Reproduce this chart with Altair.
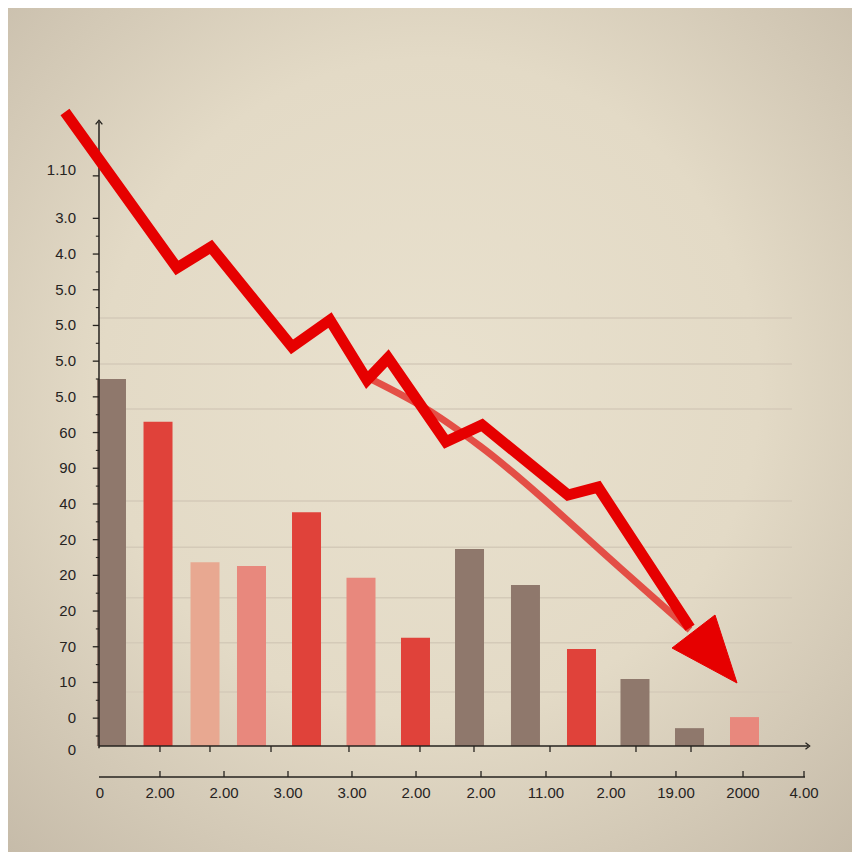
import altair as alt
import pandas as pd

# ---------------- data ----------------
# bars: position along the x axis (slot units), height, colour tone
bar_pos = [0, 0.882, 1.773, 2.654, 3.697, 4.730, 5.763, 6.787, 7.848, 8.910, 9.924, 10.957, 12.0]
bar_val = [102.8, 90.8, 51.5, 50.4, 65.5, 47.1, 30.3, 55.2, 45.1, 27.2, 18.8, 5.0, 8.1]
bar_tone = ["brown", "red", "peach", "salmon", "red", "salmon", "red",
            "brown", "brown", "red", "brown", "brown", "salmon"]

# falling zig-zag trend line
trend_x = [-0.882, 1.242, 1.886, 3.422, 4.142, 4.844, 5.242, 6.341, 7.024, 8.654, 9.223, 10.967]
trend_y = [177.6, 133.9, 139.8, 111.8, 119.3, 102.5, 108.7, 85.2, 89.9, 70.3, 72.5, 33.1]

# straight-ish "shadow" trend
shadow_x = [4.957, 6.038, 6.986, 9.640, 10.967]
shadow_y = [102.5, 93.8, 84.0, 49.9, 32.5]

# arrow head
head_x = [10.626, 11.441, 11.858, 10.626]
head_y = [27.45, 36.69, 17.65, 27.45]

# y axis labels (bottom to top) and their positions
y_labels = ["0", "0", "10", "70", "20", "20", "20", "40", "90", "60",
            "5.0", "5.0", "5.0", "5.0", "4.0", "3.0", "1.10"]
y_label_pos = [-1.1, 7.8, 17.8, 27.8, 37.8, 47.8, 57.8, 67.8, 77.8, 87.8,
               97.8, 107.8, 117.8, 127.8, 137.8, 147.8, 161.3]
y_major = [7.8, 17.8, 27.8, 37.8, 47.8, 57.8, 67.8, 77.8, 87.8,
           97.8, 107.8, 117.8, 127.8, 137.8, 147.8, 159.7]
y_minor = [2.8, 12.8, 22.8, 32.8, 42.8, 52.8, 62.8, 72.8, 82.8,
           92.8, 102.8, 112.8, 122.8, 132.8, 142.8]

# x axis labels and ticks
x_labels = ["0", "2.00", "2.00", "3.00", "3.00", "2.00", "2.00",
            "11.00", "2.00", "19.00", "2000", "4.00"]
x_label_pos = [-0.218, 0.919, 2.133, 3.346, 4.559, 5.773, 7.005,
               8.237, 9.469, 10.701, 11.972, 13.128]
x_ticks_upper = [0.919, 1.867, 3.024, 4.502, 5.848, 6.872, 8.313, 9.943, 10.986]
x_ticks_lower = x_label_pos[1:]

# faint horizontal grid lines
grid_y = [119.9, 107.0, 94.4, 68.6, 55.7, 41.5, 28.9, 15.1]

# axis geometry (data units)
AX_X = -0.237          # y axis position
AX_TOP = 174.8         # top of y axis
AX_RIGHT = 13.204      # end of x axis
LOW_Y = -8.68          # second (label) axis line
LOW_RIGHT = 13.147
GRID_RIGHT = 12.90

# ---------------- scales ----------------
xs = alt.Scale(domain=[-1.962, 14.038], nice=False, zero=False, padding=0)
ys = alt.Scale(domain=[-29.69, 206.72], nice=False, zero=False, padding=0)
X = lambda f="x": alt.X(f"{f}:Q", scale=xs, axis=None)
Y = lambda f="y": alt.Y(f"{f}:Q", scale=ys, axis=None)

INK = "#26231f"
FONT = "Liberation Sans"

# background gradient
bg = alt.Chart(pd.DataFrame({"a": [0]})).mark_rect(
    color=alt.RadialGradient(
        gradient="radial",
        stops=[alt.GradientStop(offset=0, color="#e9e1ce"),
               alt.GradientStop(offset=0.5, color="#e3dac6"),
               alt.GradientStop(offset=1, color="#c3b8a6")],
        x1=0.5, y1=0.45, r1=0, x2=0.5, y2=0.45, r2=0.78)
).encode(x=alt.value(0), x2=alt.value(844), y=alt.value(0), y2=alt.value(844))

# grid
grid_df = pd.DataFrame({"y": grid_y, "x": AX_X, "x2": GRID_RIGHT})
grid = alt.Chart(grid_df).mark_rule(color="#d4cab8", strokeWidth=1.5).encode(
    x=X(), x2="x2", y=Y())

# bars
bar_df = pd.DataFrame({"x": bar_pos, "y": bar_val, "tone": bar_tone, "base": 0})
bars = alt.Chart(bar_df).mark_bar(size=29).encode(
    x=X(), y=Y(), y2="base",
    color=alt.Color("tone:N", legend=None,
                    scale=alt.Scale(domain=["brown", "red", "peach", "salmon"],
                                    range=["#8f786c", "#e0423a", "#e8a891", "#e8887d"])))

# axes lines
axes_df = pd.DataFrame({
    "x": [AX_X, AX_X, AX_X],
    "x2": [AX_X, AX_RIGHT, LOW_RIGHT],
    "y": [-0.6, 0, LOW_Y],
    "y2": [AX_TOP, 0, LOW_Y],
})
axes = alt.Chart(axes_df).mark_rule(color=INK, strokeWidth=1.5).encode(
    x=X(), x2="x2", y=Y(), y2="y2")

# y ticks
ymaj_df = pd.DataFrame({"y": y_major, "x": AX_X - 0.118, "x2": AX_X})
ymin_df = pd.DataFrame({"y": y_minor, "x": AX_X - 0.06, "x2": AX_X})
ymaj = alt.Chart(ymaj_df).mark_rule(color=INK, strokeWidth=1.3).encode(x=X(), x2="x2", y=Y())
ymin = alt.Chart(ymin_df).mark_rule(color=INK, strokeWidth=1.1).encode(x=X(), x2="x2", y=Y())

# x ticks
xu_df = pd.DataFrame({"x": x_ticks_upper, "y": 0, "y2": -1.7})
xl_df = pd.DataFrame({"x": x_ticks_lower, "y": LOW_Y, "y2": LOW_Y + 1.7})
xu = alt.Chart(xu_df).mark_rule(color=INK, strokeWidth=1.3).encode(x=X(), y=Y(), y2="y2")
xl = alt.Chart(xl_df).mark_rule(color=INK, strokeWidth=1.3).encode(x=X(), y=Y(), y2="y2")

# axis arrow chevrons
chev = "M -0.8 0.6 L 0 -0.4 L 0.8 0.6"
arr_df = pd.DataFrame({"x": [AX_X, AX_RIGHT], "y": [AX_TOP, 0], "ang": [0, 90]})
arrows = alt.Chart(arr_df).mark_point(shape=chev, filled=False, size=70,
                                      color=INK, strokeWidth=1.3, opacity=1).encode(
    x=X(), y=Y(), angle=alt.Angle("ang:Q", scale=None))

# shadow line
sh_df = pd.DataFrame({"x": shadow_x, "y": shadow_y, "i": range(len(shadow_x))})
shadow = alt.Chart(sh_df).mark_line(color="#e23a33", strokeWidth=7, opacity=0.88,
                                    strokeCap="butt", interpolate="monotone").encode(
    x=X(), y=Y(), order="i:Q")

# main trend line
tr_df = pd.DataFrame({"x": trend_x, "y": trend_y, "i": range(len(trend_x))})
trend = alt.Chart(tr_df).mark_line(color="#e60000", strokeWidth=11,
                                   strokeJoin="miter", strokeCap="butt").encode(
    x=X(), y=Y(), order="i:Q")

# arrow head
hd_df = pd.DataFrame({"x": head_x, "y": head_y, "i": range(len(head_x))})
head = alt.Chart(hd_df).mark_line(stroke="#e60000", fill="#e60000", strokeWidth=1,
                                  strokeJoin="miter").encode(
    x=X(), y=Y(), order="i:Q")

# labels
yl_df = pd.DataFrame({"x": -0.673, "y": y_label_pos, "t": y_labels})
ylab = alt.Chart(yl_df).mark_text(align="right", baseline="middle", font=FONT,
                                  fontSize=15, color=INK).encode(x=X(), y=Y(), text="t:N")
xl2_df = pd.DataFrame({"x": x_label_pos, "y": -13.17, "t": x_labels})
xlab = alt.Chart(xl2_df).mark_text(align="center", baseline="middle", font=FONT,
                                   fontSize=15, color=INK).encode(x=X(), y=Y(), text="t:N")

chart = alt.layer(bg, grid, bars, axes, ymaj, ymin, xu, xl, arrows,
                  shadow, trend, head, ylab, xlab).properties(
    width=844, height=844, padding=0,
    autosize=alt.AutoSizeParams(type="none"),
).configure_view(strokeWidth=0).configure(background="#cfc5b3")

chart.save("out.html", embed_options={"renderer": "svg", "actions": False})
